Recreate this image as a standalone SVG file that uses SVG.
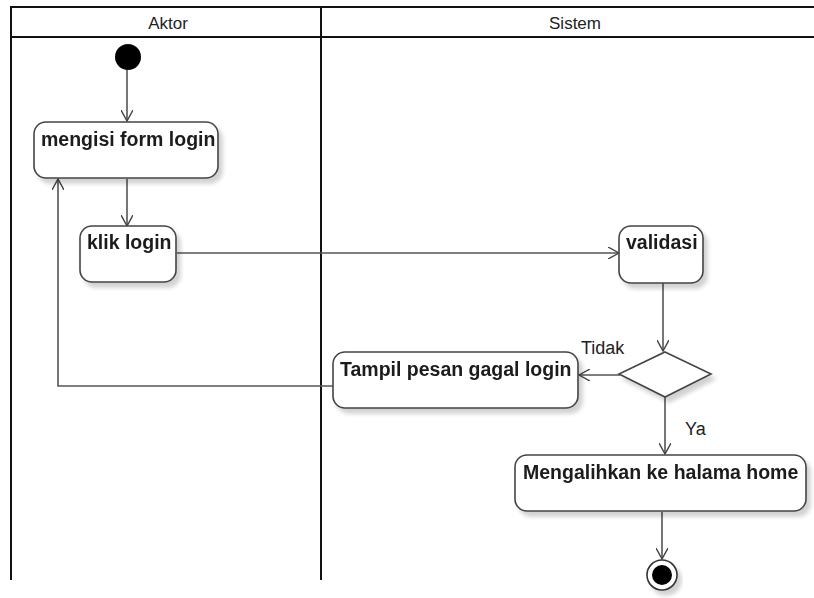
<svg xmlns="http://www.w3.org/2000/svg" width="814" height="598" viewBox="0 0 814 598">
<style>
.lane{stroke:#111;stroke-width:2;fill:none}
.hdr{font-family:"Liberation Sans",Arial,sans-serif;font-size:17px;fill:#222;text-anchor:middle}
.box{fill:#fff;stroke:#444;stroke-width:1.6}
.lbl{font-family:"Liberation Sans",Arial,sans-serif;font-size:19.5px;font-weight:bold;fill:#1a1a1a}
.guard{font-family:"Liberation Sans",Arial,sans-serif;font-size:18px;fill:#222}
.con{stroke:#555;stroke-width:1.6;fill:none}
</style>
<defs>
<marker id="open" viewBox="0 0 12 12" refX="11" refY="6" markerWidth="12" markerHeight="12" markerUnits="userSpaceOnUse" orient="auto">
<path d="M0,0 L11,6 L0,12" fill="none" stroke="#444" stroke-width="1.4"/>
</marker>
<filter id="sh" x="-10%" y="-10%" width="130%" height="140%">
<feGaussianBlur in="SourceAlpha" stdDeviation="2"/>
<feOffset dx="4" dy="5" result="b"/>
<feComponentTransfer><feFuncA type="linear" slope="0.18"/></feComponentTransfer>
<feMerge><feMergeNode/><feMergeNode in="SourceGraphic"/></feMerge>
</filter>
</defs>
<rect width="814" height="598" fill="#fff"/>
<g id="swimlanes">
<line class="lane" x1="10" y1="7" x2="814" y2="7"/>
<line class="lane" x1="10" y1="37" x2="814" y2="37"/>
<line class="lane" x1="11" y1="7" x2="11" y2="580"/>
<line class="lane" x1="321" y1="7" x2="321" y2="580"/>
<text class="hdr" x="168" y="29">Aktor</text>
<text class="hdr" x="575" y="29">Sistem</text>
</g>
<g id="connectors">
<line class="con" x1="127" y1="70" x2="127" y2="121" marker-end="url(#open)"/>
<line class="con" x1="127" y1="179" x2="127" y2="226" marker-end="url(#open)"/>
<line class="con" x1="177" y1="253" x2="619" y2="253" marker-end="url(#open)"/>
<line class="con" x1="663" y1="283" x2="663" y2="351" marker-end="url(#open)"/>
<line class="con" x1="620" y1="375" x2="579" y2="375" marker-end="url(#open)"/>
<polyline class="con" points="333,386 58,386 58,179" marker-end="url(#open)"/>
<line class="con" x1="665" y1="397" x2="665" y2="454" marker-end="url(#open)"/>
<line class="con" x1="662" y1="512" x2="662" y2="559" marker-end="url(#open)"/>
<text class="guard" x="581" y="354">Tidak</text>
<text class="guard" x="685" y="435">Ya</text>
</g>
<g id="start">
<circle cx="128" cy="57" r="13" fill="#000"/>
</g>
<g id="mengisi" filter="url(#sh)">
<rect class="box" x="34" y="122" width="184" height="56" rx="12"/>
<text class="lbl" x="41" y="146">mengisi form login</text>
</g>
<g id="klik" filter="url(#sh)">
<rect class="box" x="80" y="226" width="96" height="56" rx="12"/>
<text class="lbl" x="87" y="249">klik login</text>
</g>
<g id="validasi" filter="url(#sh)">
<rect class="box" x="619" y="226" width="84" height="57" rx="12"/>
<text class="lbl" x="626" y="249">validasi</text>
</g>
<g id="decision" filter="url(#sh)">
<polygon class="box" points="665,352 711,374 665,397 619,374"/>
</g>
<g id="tampil" filter="url(#sh)">
<rect class="box" x="333" y="352" width="245" height="56" rx="12"/>
<text class="lbl" x="340" y="376">Tampil pesan gagal login</text>
</g>
<g id="mengalihkan" filter="url(#sh)">
<rect class="box" x="515" y="455" width="291" height="56" rx="12"/>
<text class="lbl" x="523" y="479">Mengalihkan ke halama home</text>
</g>
<g id="end" filter="url(#sh)">
<circle cx="662" cy="575" r="15" fill="#fff" stroke="#333" stroke-width="1.6"/>
<circle cx="662" cy="575" r="10" fill="#000"/>
</g>
</svg>
